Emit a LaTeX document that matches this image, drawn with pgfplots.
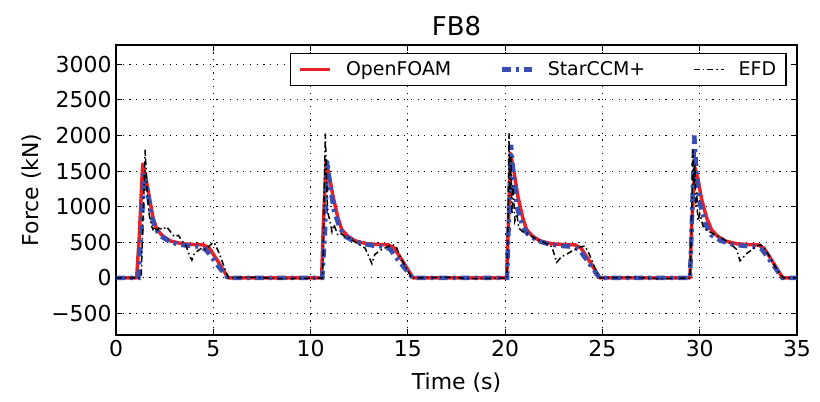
\documentclass[border=0pt]{standalone}
\usepackage{pgfplots}
\pgfplotsset{compat=1.18}
\usepackage{fontspec}
\setmainfont{DejaVu Sans}
\definecolor{ofred}{RGB}{232,32,40}
\definecolor{ccmblue}{RGB}{58,78,178}
\begin{document}
\begin{tikzpicture}
\path[use as bounding box] (-116bp,-67bp) rectangle (704bp,335bp);
\begin{axis}[
  at={(0,0)}, anchor=south west,
  scale only axis, width=681bp, height=290bp,
  xmin=0, xmax=35, ymin=-800, ymax=3270,
  xtick={0,5,...,35}, ytick={-500,0,500,1000,1500,2000,2500,3000},
  yticklabels={−500,0,500,1000,1500,2000,2500,3000},
  xticklabels={0,5,10,15,20,25,30,35},
  tick align=inside, major tick length=6bp,
  grid=major, major grid style={black, line width=1bp, dash pattern=on 1.2bp off 5.5bp},
  axis line style={line width=1.3bp},
  tick style={black, line width=1bp},
  ticklabel style={font=\fontsize{22}{26}\selectfont},
  xticklabel style={yshift=-2bp},
  yticklabel style={xshift=-1bp},
  xlabel={Time (s)}, ylabel={Force (kN)},
  label style={font=\fontsize{22}{26}\selectfont},
  xlabel style={yshift=-9bp},
  ylabel style={yshift=3bp},
  title={FB8}, title style={font=\fontsize{26}{30}\selectfont, yshift=0bp},
  legend columns=3,
  legend image code/.code={\draw[#1] (0bp,0bp) -- (30bp,0bp);},
  legend style={at={(0.985,0.972)}, anchor=north east, draw=black, line width=1.3bp,
    font=\fontsize{19}{22}\selectfont, inner xsep=8bp, inner ysep=6bp,
    /tikz/every odd column/.append style={column sep=12bp},
    /tikz/every even column/.append style={column sep=46bp}},
  legend cell align=left,
]
\addplot[ofred, line width=3.5bp, line join=round] coordinates {
(0,0) (1.06,0) (1.2,600) (1.37,1600) (1.5,1450) (1.7,1150) (1.9,850) (2.1,680) (2.4,590) (2.8,520) (3.4,480) (4.0,470) (4.5,465) (4.8,420) (5.2,250) (5.77,0)
(10.57,0) (10.65,700) (10.8,1650) (10.95,1450) (11.15,1150) (11.4,850) (11.6,680) (11.9,590) (12.3,520) (12.9,480) (13.5,470) (14.0,465) (14.3,420) (14.7,250) (15.27,0)
(20.08,0) (20.16,700) (20.28,1750) (20.45,1500) (20.65,1150) (20.9,850) (21.1,680) (21.4,590) (21.8,520) (22.4,480) (23.0,470) (23.6,465) (23.9,420) (24.3,250) (24.87,0)
(29.5,0) (29.58,700) (29.75,1550) (29.9,1400) (30.1,1100) (30.35,850) (30.6,680) (30.9,590) (31.3,520) (31.9,480) (32.5,470) (33.0,465) (33.3,420) (33.7,250) (34.27,0) (35,0)
};
\addlegendentry{OpenFOAM}
\addplot[ccmblue, line width=4.5bp, dash pattern=on 9bp off 5bp on 3bp off 5bp] coordinates {
(0,0) (1.15,0) (1.3,600) (1.45,1500) (1.6,1250) (1.8,900) (2.0,700) (2.3,590) (2.7,520) (3.2,470) (3.8,450) (4.3,440) (4.6,400) (4.9,300) (5.3,150) (5.75,0)
(10.6,0) (10.75,700) (10.85,1650) (11.0,1300) (11.2,950) (11.5,700) (11.8,580) (12.2,520) (12.7,480) (13.3,450) (13.8,440) (14.1,400) (14.5,250) (15.25,0)
(20.1,0) (20.2,900) (20.3,1870) (20.45,1350) (20.6,1000) (20.9,720) (21.2,600) (21.7,520) (22.3,470) (22.9,450) (23.4,440) (23.8,400) (24.2,250) (24.85,0)
(29.5,0) (29.6,800) (29.72,2000) (29.85,1400) (30.0,1050) (30.3,750) (30.6,600) (31.1,520) (31.7,470) (32.3,450) (32.8,440) (33.2,400) (33.6,250) (34.25,0) (35,0)
};
\addlegendentry{StarCCM+}
\addplot[black, line width=1.5bp, dash pattern=on 6bp off 3bp on 1.5bp off 3bp] coordinates {
(0,0) (1.25,0) (1.3,50) (1.38,800) (1.45,1300) (1.5,1800) (1.55,1500) (1.6,1200) (1.7,900) (1.8,750) (1.9,680) (2.0,720) (2.1,650) (2.2,700) (2.4,680) (2.6,720) (2.8,650) (3.0,580) (3.2,600) (3.4,520) (3.6,450) (3.8,300) (3.9,250) (4.0,330) (4.2,380) (4.4,420) (4.6,400) (4.8,450) (5.0,500) (5.1,470) (5.3,350) (5.5,200) (5.7,50) (5.8,0) (7.0,10) (8.5,-10) (10.6,0)
(10.65,300) (10.72,1500) (10.76,2030) (10.8,1600) (10.85,1100) (10.9,900) (11.0,800) (11.1,650) (11.2,750) (11.4,600) (11.6,620) (11.8,570) (12.0,560) (12.2,520) (12.5,470) (12.8,420) (13.0,300) (13.15,200) (13.3,330) (13.6,390) (13.9,430) (14.2,470) (14.4,440) (14.6,300) (14.9,150) (15.2,0) (17,10) (18.5,-10) (20.1,0)
(20.15,800) (20.2,2030) (20.25,1200) (20.3,1700) (20.35,900) (20.4,1300) (20.5,800) (20.6,900) (20.7,700) (20.9,650) (21.2,620) (21.5,560) (22.0,500) (22.4,440) (22.65,220) (22.9,300) (23.2,340) (23.5,390) (23.8,430) (24.1,450) (24.3,350) (24.6,150) (24.85,0) (26.5,10) (28,-10) (29.5,0)
(29.58,700) (29.65,1800) (29.7,1300) (29.75,1600) (29.8,1000) (29.85,1200) (29.9,800) (30.0,900) (30.2,700) (30.5,650) (31.0,580) (31.5,500) (31.9,400) (32.07,240) (32.4,340) (32.8,420) (33.1,470) (33.3,430) (33.6,300) (34.0,100) (34.3,0) (35,0)
};
\addlegendentry{EFD}
\end{axis}
\end{tikzpicture}
\end{document}
